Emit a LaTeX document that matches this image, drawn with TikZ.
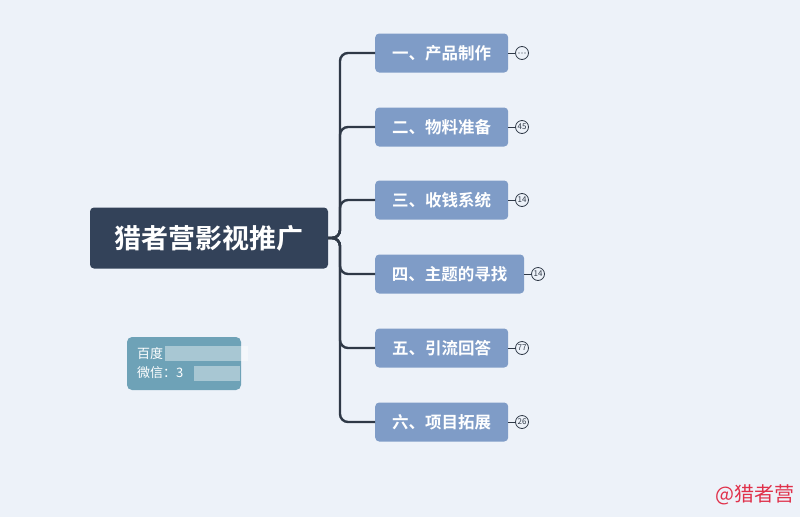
\documentclass[tikz,border=0pt]{standalone}
\usepackage{fontspec}
\newfontfamily\cjk{Noto Sans CJK SC}
\newfontfamily\cjkb{Noto Sans CJK SC Bold}
\definecolor{bg}{HTML}{EDF2F9}
\definecolor{rootc}{HTML}{334259}
\definecolor{branchc}{HTML}{7F9CC7}
\definecolor{linec}{HTML}{2F3947}
\definecolor{infoc}{HTML}{6EA2B7}
\definecolor{wmc}{HTML}{E0304A}
\begin{document}
\begin{tikzpicture}[x=1pt,y=-1pt,
  rootbox/.style={fill=rootc,rounded corners=4pt,text=white,font=\cjkb\fontsize{27}{29}\selectfont,minimum width=238pt,minimum height=61pt,inner sep=0pt},
  branchbox/.style={fill=branchc,rounded corners=4pt,text=white,font=\cjkb\fontsize{16.5}{18}\selectfont,minimum height=39pt,inner sep=0pt,anchor=west},
  badge/.style={circle,draw=linec,line width=0.8pt,fill=bg,minimum size=13pt,inner sep=0pt,font=\cjk\fontsize{8}{8}\selectfont,text=linec},
  conn/.style={draw=linec,line width=2.4pt,rounded corners=8pt},
  bconn/.style={draw=linec,line width=0.9pt}]
\useasboundingbox (0,0) rectangle (800,517);
\fill[bg] (0,0) rectangle (800,517);
\node[rootbox] (root) at (209,238) {猎者营影视推广};
\node[branchbox,minimum width=133pt] (b1) at (375,53) {一、产品制作};
\node[branchbox,minimum width=133pt] (b2) at (375,127) {二、物料准备};
\node[branchbox,minimum width=133pt] (b3) at (375,200) {三、收钱系统};
\node[branchbox,minimum width=149pt] (b4) at (375,274) {四、主题的寻找};
\node[branchbox,minimum width=133pt] (b5) at (375,348) {五、引流回答};
\node[branchbox,minimum width=133pt] (b6) at (375,422) {六、项目拓展};
\coordinate (fork) at (340,238);
\foreach \b in {b1,b2,b3,b4,b5,b6}{
  \draw[conn] (root.east) -- (fork) |- (\b.west);
}
\node[badge] (n1) at (522,53) {};
\foreach \dx in {-3,0,3}{\fill[linec] ([xshift=\dx pt]n1.center) circle (0.6pt);}
\node[badge] (n2) at (522,127) {45};
\node[badge] (n3) at (522,200) {14};
\node[badge] (n4) at (538,274) {14};
\node[badge] (n5) at (522,348) {77};
\node[badge] (n6) at (522,422) {26};
\foreach \i in {1,...,6}{
  \draw[bconn] (b\i.east) -- (n\i.west);
}
\node[fill=infoc,rounded corners=5pt,minimum width=114pt,minimum height=53pt,inner sep=0pt] (info) at (184,363.5) {};
\node[anchor=west,text=white,font=\cjk\fontsize{13}{15}\selectfont,inner sep=0pt] (t1) at (137,354) {百度};
\node[anchor=west,text=white,font=\cjk\fontsize{13}{15}\selectfont,inner sep=0pt] (t2) at (137,373) {微信：3};
\fill[white,opacity=0.4] (165,346) rectangle (248,361);
\fill[white,opacity=0.4] (194,366) rectangle (240,381);
\node[anchor=east,text=wmc,font=\cjk\fontsize{20}{22}\selectfont,inner sep=0pt] (wm) at (795,495) {@猎者营};
\end{tikzpicture}
\end{document}
